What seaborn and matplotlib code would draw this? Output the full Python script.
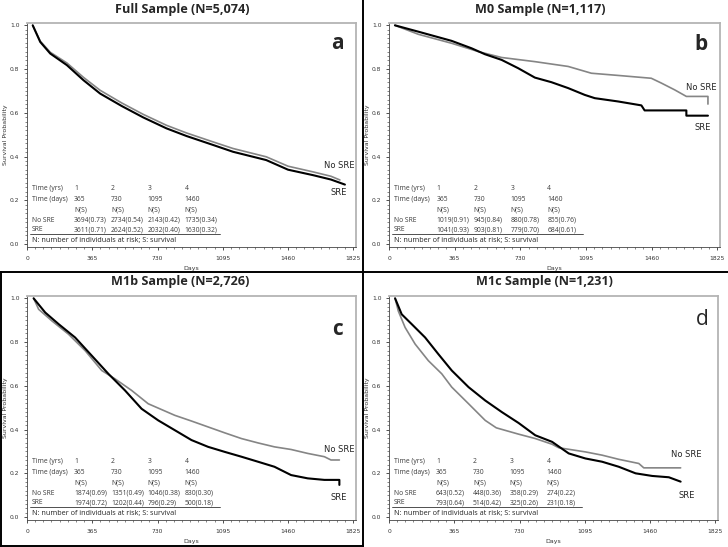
import numpy as np
import pandas as pd
import seaborn as sns
import matplotlib.pyplot as plt
from matplotlib.ticker import AutoMinorLocator
from matplotlib.lines import Line2D

sns.set_style("ticks")
plt.rcParams["font.family"] = ["DejaVu Sans"]

# ---- curves (day, survival) ----
# a: full sample
a_nosre_day = [32, 74, 130, 223, 316, 409, 530, 650, 780, 892, 1041, 1152, 1338, 1460, 1600, 1700, 1750]
a_nosre_s = [1.0, 0.928, 0.877, 0.828, 0.762, 0.703, 0.645, 0.593, 0.543, 0.508, 0.467, 0.437, 0.399, 0.356, 0.330, 0.310, 0.293]
a_sre_day = [32, 74, 130, 223, 316, 409, 530, 650, 780, 892, 1041, 1152, 1338, 1460, 1600, 1700, 1778]
a_sre_s = [1.0, 0.924, 0.871, 0.818, 0.749, 0.688, 0.631, 0.579, 0.529, 0.494, 0.453, 0.422, 0.384, 0.34, 0.315, 0.295, 0.272]

# b: M0
b_nosre_day = [33, 163, 348, 496, 626, 811, 996, 1125, 1273, 1458, 1514, 1588, 1653, 1773, 1773]
b_nosre_s = [1.0, 0.959, 0.918, 0.880, 0.853, 0.834, 0.812, 0.781, 0.771, 0.758, 0.736, 0.705, 0.675, 0.675, 0.640]
b_sre_day = [33, 163, 348, 459, 533, 626, 718, 811, 903, 996, 1088, 1144, 1273, 1403, 1421, 1653, 1653, 1773]
b_sre_s = [1.0, 0.971, 0.929, 0.895, 0.868, 0.842, 0.804, 0.761, 0.740, 0.713, 0.682, 0.667, 0.652, 0.634, 0.611, 0.611, 0.587, 0.587]

# c: M1b
c_nosre_day = [37, 65, 139, 232, 325, 418, 492, 585, 678, 827, 920, 1106, 1199, 1292, 1384, 1477, 1570, 1663, 1700, 1747]
c_nosre_s = [1.0, 0.95, 0.897, 0.836, 0.761, 0.670, 0.632, 0.579, 0.518, 0.465, 0.439, 0.385, 0.359, 0.339, 0.321, 0.309, 0.291, 0.276, 0.261, 0.261]
c_sre_day = [37, 102, 177, 269, 362, 455, 548, 641, 734, 827, 920, 1013, 1106, 1199, 1292, 1384, 1477, 1570, 1663, 1747, 1747]
c_sre_s = [1.0, 0.935, 0.882, 0.821, 0.738, 0.655, 0.579, 0.495, 0.442, 0.397, 0.352, 0.321, 0.298, 0.276, 0.253, 0.230, 0.192, 0.177, 0.170, 0.170, 0.147]

# d: M1c
d_nosre_day = [34, 52, 90, 146, 220, 295, 351, 445, 538, 600, 725, 818, 912, 949, 1098, 1192, 1285, 1397, 1425, 1631]
d_nosre_s = [1.0, 0.942, 0.867, 0.791, 0.715, 0.655, 0.594, 0.518, 0.442, 0.408, 0.379, 0.359, 0.333, 0.317, 0.298, 0.283, 0.264, 0.245, 0.225, 0.225]
d_sre_day = [34, 71, 127, 202, 276, 351, 445, 538, 631, 725, 818, 912, 1005, 1098, 1192, 1285, 1379, 1472, 1565, 1631]
d_sre_s = [1.0, 0.927, 0.882, 0.821, 0.745, 0.670, 0.594, 0.533, 0.480, 0.430, 0.374, 0.344, 0.291, 0.268, 0.253, 0.230, 0.200, 0.188, 0.182, 0.162]

# ---- numbers-at-risk tables ----
years = ["1", "2", "3", "4"]
days = ["365", "730", "1095", "1460"]
a_nosre_tab = ["3694(0.73)", "2734(0.54)", "2143(0.42)", "1735(0.34)"]
a_sre_tab = ["3611(0.71)", "2624(0.52)", "2032(0.40)", "1630(0.32)"]
b_nosre_tab = ["1019(0.91)", "945(0.84)", "880(0.78)", "855(0.76)"]
b_sre_tab = ["1041(0.93)", "903(0.81)", "779(0.70)", "684(0.61)"]
c_nosre_tab = ["1874(0.69)", "1351(0.49)", "1046(0.38)", "830(0.30)"]
c_sre_tab = ["1974(0.72)", "1202(0.44)", "796(0.29)", "500(0.18)"]
d_nosre_tab = ["643(0.52)", "448(0.36)", "358(0.29)", "274(0.22)"]
d_sre_tab = ["793(0.64)", "514(0.42)", "325(0.26)", "231(0.18)"]

titles = ["Full Sample (N=5,074)", "M0 Sample (N=1,117)", "M1b Sample (N=2,726)", "M1c Sample (N=1,231)"]
xticks = [0, 365, 730, 1095, 1460, 1825]

W, H = 728, 547
fig = plt.figure(figsize=(W / 100, H / 100), dpi=100)


def px_axes(left, top, right, bottom):
    return fig.add_axes([left / W, 1 - bottom / H, (right - left) / W, (bottom - top) / H])


def draw_panel(ax, nd, ns, sd, ss, nt, st, letter, bold, nos_xy, sre_xy, let_xy):
    df_n = pd.DataFrame({"day": nd, "surv": ns})
    df_s = pd.DataFrame({"day": sd, "surv": ss})
    sns.lineplot(data=df_n, x="day", y="surv", ax=ax, color="#858585", lw=1.2,
                 estimator=None, sort=False)
    sns.lineplot(data=df_s, x="day", y="surv", ax=ax, color="black", lw=1.5,
                 estimator=None, sort=False)
    ax.set_xlim(0, 1840)
    ax.set_ylim(-0.012, 1.012)
    ax.set_xticks(xticks)
    ax.set_yticks(np.arange(0, 1.01, 0.2))
    ax.set_yticklabels([f"{v:.1f}" for v in np.arange(0, 1.01, 0.2)])
    ax.xaxis.set_minor_locator(AutoMinorLocator(8))
    ax.yaxis.set_minor_locator(AutoMinorLocator(10))
    ax.tick_params(which="major", length=2.5, width=0.6, labelsize=4.3, pad=3, colors="#333333")
    ax.tick_params(which="minor", length=1.3, width=0.5, colors="#555555")
    ax.tick_params(axis="x", pad=4)
    ax.set_xlabel("Days", fontsize=4.5, labelpad=4, color="#333333")
    ax.set_ylabel("Survival Probability", fontsize=4.5, labelpad=1, color="#333333")
    for side in ["top", "right"]:
        ax.spines[side].set_visible(True)
        ax.spines[side].set_color("#b4b4b4")
        ax.spines[side].set_linewidth(1.3)
    for side in ["left", "bottom"]:
        ax.spines[side].set_color("#444444")
        ax.spines[side].set_linewidth(0.6)

    ax.text(nos_xy[0], nos_xy[1], "No SRE", fontsize=6, ha="center", va="center")
    ax.text(sre_xy[0], sre_xy[1], "SRE", fontsize=6, ha="center", va="center")
    ax.text(let_xy[0], let_xy[1], letter, fontsize=15, ha="center", va="center",
            fontweight="bold" if bold else "normal", family="Open Sans")

    # numbers-at-risk table
    cols = [263, 470, 675, 880]
    rows = [0.255, 0.205, 0.157, 0.108, 0.065]
    tc = "#3a3a3a"
    fs = 4.9
    heads = ["Time (yrs)", "Time (days)", "", "No SRE", "SRE"]
    cells = [years, days, ["N(S)"] * 4, nt, st]
    for r, head, vals in zip(rows, heads, cells):
        ax.text(28, r, head, fontsize=fs, color=tc, va="center", family="Open Sans")
        for cx, v in zip(cols, vals):
            ax.text(cx, r, v, fontsize=fs, color=tc, va="center", family="Open Sans")
    ax.plot([18, 1077], [0.044, 0.044], color="#333333", lw=0.6)
    ax.text(28, 0.018, "N: number of individuals at risk; S: survival", fontsize=5.2,
            color="#222222", va="center", family="Open Sans")


ax_a = px_axes(27, 22.7, 356, 246.7)
ax_b = px_axes(389, 22.7, 720, 246.7)
ax_c = px_axes(27, 295.7, 356, 519.7)
ax_d = px_axes(389, 295.7, 718, 519.7)

draw_panel(ax_a, a_nosre_day, a_nosre_s, a_sre_day, a_sre_s, a_nosre_tab, a_sre_tab,
           "a", True, (1745, 0.357), (1745, 0.234), (1738, 0.915))
draw_panel(ax_b, b_nosre_day, b_nosre_s, b_sre_day, b_sre_s, b_nosre_tab, b_sre_tab,
           "b", True, (1738, 0.714), (1745, 0.533), (1736, 0.912))
draw_panel(ax_c, c_nosre_day, c_nosre_s, c_sre_day, c_sre_s, c_nosre_tab, c_sre_tab,
           "c", True, (1745, 0.308), (1745, 0.088), (1738, 0.858))
draw_panel(ax_d, d_nosre_day, d_nosre_s, d_sre_day, d_sre_s, d_nosre_tab, d_sre_tab,
           "d", False, (1663, 0.285), (1663, 0.098), (1750, 0.903))

title_pos = [(182, 9), (540, 9), (180, 282), (544, 282)]
for t, (tx, ty) in zip(titles, title_pos):
    fig.text(tx / W, 1 - ty / H, t, fontsize=9.1, fontweight="bold", ha="center",
             va="center", family="Open Sans")

# panel borders
def fig_line(x0, y0, x1, y1):
    fig.add_artist(Line2D([x0 / W, x1 / W], [1 - y0 / H, 1 - y1 / H], color="black",
                          lw=1.4, transform=fig.transFigure))

fig_line(362.8, 0, 362.8, H)
fig_line(0, 272.3, W, 272.3)
fig_line(1, 272.3, 1, 545.5)
fig_line(0, 545.5, 362.8, 545.5)

fig.savefig("out.png", dpi=100)
